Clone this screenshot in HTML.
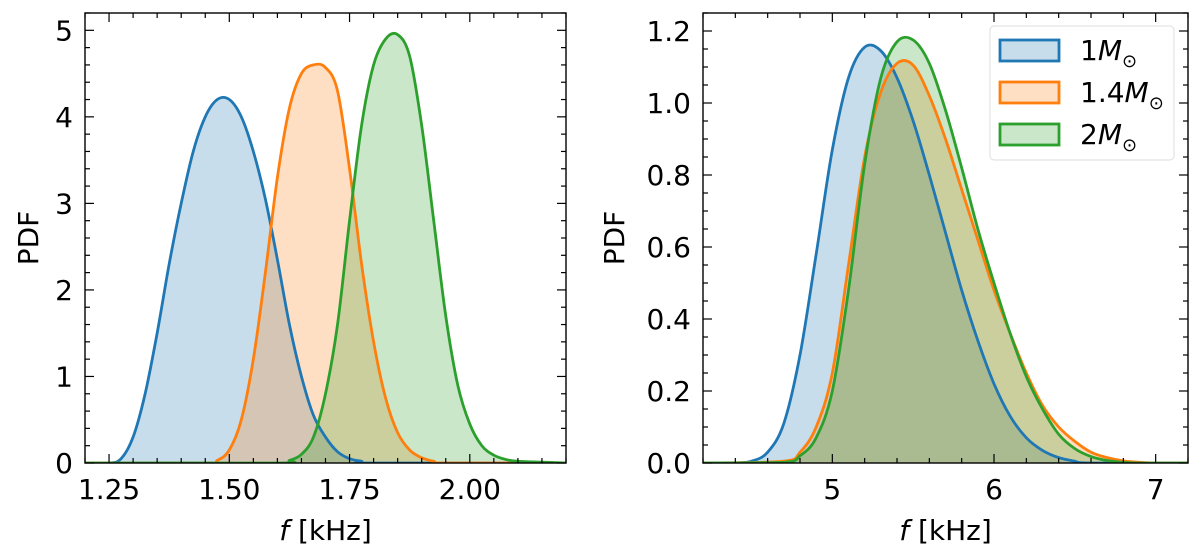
<!DOCTYPE html>
<html><head><meta charset="utf-8"><style>
html,body{margin:0;padding:0;background:#fff}
svg{display:block}
text{font-family:"DejaVu Sans","Liberation Sans",sans-serif;fill:#000}
</style></head><body>
<svg id="chart" width="1200" height="556" viewBox="0 0 1200 556" xmlns="http://www.w3.org/2000/svg"></svg>
<script>
// ---- data: left panel ----
const leftXTicks = [1.25, 1.50, 1.75, 2.00];
const leftXTickLabels = ["1.25", "1.50", "1.75", "2.00"];
const leftYTicks = [0, 1, 2, 3, 4, 5];
const leftYTickLabels = ["0", "1", "2", "3", "4", "5"];
const leftBlueX = [1.20,1.25,1.275,1.30,1.325,1.35,1.375,1.40,1.425,1.45,1.475,1.50,1.525,1.55,1.575,1.60,1.625,1.65,1.675,1.70,1.725,1.75,1.775,1.80,2.20];
const leftBlueY = [0,0,0.05,0.3,0.8,1.5,2.3,3.0,3.6,4.0,4.2,4.2,4.0,3.6,3.05,2.35,1.6,1.0,0.55,0.3,0.13,0.05,0.02,0,0];
const leftOrangeX = [1.20,1.45,1.475,1.50,1.525,1.55,1.575,1.60,1.625,1.65,1.675,1.70,1.725,1.75,1.775,1.80,1.825,1.85,1.875,1.90,1.925,1.95,2.20];
const leftOrangeY = [0,0,0.03,0.15,0.5,1.2,2.2,3.3,4.1,4.5,4.6,4.57,4.3,3.4,2.3,1.4,0.75,0.35,0.15,0.06,0.02,0,0];
const leftGreenX = [1.20,1.60,1.625,1.65,1.675,1.70,1.725,1.75,1.775,1.80,1.825,1.85,1.875,1.90,1.925,1.95,1.975,2.00,2.025,2.05,2.075,2.10,2.15,2.20];
const leftGreenY = [0,0,0.03,0.1,0.3,0.8,1.6,2.8,3.9,4.6,4.9,4.95,4.7,3.9,2.8,1.7,0.9,0.45,0.2,0.09,0.04,0.02,0.01,0];
// ---- data: right panel ----
const rightXTicks = [5, 6, 7];
const rightXTickLabels = ["5", "6", "7"];
const rightYTicks = [0, 0.2, 0.4, 0.6, 0.8, 1.0, 1.2];
const rightYTickLabels = ["0.0", "0.2", "0.4", "0.6", "0.8", "1.0", "1.2"];
const rightBlueX = [4.2,4.4,4.5,4.6,4.7,4.8,4.9,5.0,5.1,5.2,5.3,5.4,5.5,5.6,5.7,5.8,5.9,6.0,6.1,6.2,6.3,6.4,6.5,6.6,7.2];
const rightBlueY = [0,0,0.005,0.03,0.11,0.3,0.58,0.87,1.07,1.155,1.145,1.07,0.95,0.8,0.64,0.48,0.34,0.22,0.13,0.07,0.035,0.015,0.005,0,0];
const rightOrangeX = [4.2,4.7,4.8,4.9,5.0,5.1,5.2,5.3,5.4,5.5,5.6,5.7,5.8,5.9,6.0,6.1,6.2,6.3,6.4,6.5,6.6,6.7,6.8,6.9,7.0,7.2];
const rightOrangeY = [0,0.005,0.03,0.1,0.25,0.55,0.85,1.03,1.11,1.105,1.02,0.9,0.76,0.62,0.48,0.36,0.25,0.16,0.1,0.06,0.03,0.015,0.006,0.002,0,0];
const rightGreenX = [4.2,4.7,4.8,4.9,5.0,5.1,5.2,5.3,5.4,5.5,5.6,5.7,5.8,5.9,6.0,6.1,6.2,6.3,6.4,6.5,6.6,6.7,6.8,6.9,7.2];
const rightGreenY = [0,0.002,0.02,0.07,0.2,0.48,0.83,1.07,1.17,1.175,1.11,0.98,0.82,0.65,0.5,0.36,0.24,0.15,0.08,0.04,0.018,0.007,0.002,0,0];
const legendLabels = ["1", "1.4", "2"];

const NS = "http://www.w3.org/2000/svg";
const svg = document.getElementById('chart');
const C = ["#1f77b4", "#ff7f0e", "#2ca02c"];
function mk(tag, attrs, parent) {
  const e = document.createElementNS(NS, tag);
  for (const k in attrs) e.setAttribute(k, attrs[k]);
  (parent || svg).appendChild(e);
  return e;
}
function smoothPath(pts) {
  let d = "M" + pts[0][0].toFixed(2) + "," + pts[0][1].toFixed(2);
  for (let i = 0; i < pts.length - 1; i++) {
    const p0 = pts[Math.max(0, i - 1)], p1 = pts[i], p2 = pts[i + 1], p3 = pts[Math.min(pts.length - 1, i + 2)];
    let c1y = p1[1] + (p2[1] - p0[1]) / 6, c2y = p2[1] - (p3[1] - p1[1]) / 6;
    const base = Math.max(p1[1], p2[1]);
    c1y = Math.min(c1y, base); c2y = Math.min(c2y, base);
    d += " C" + (p1[0] + (p2[0] - p0[0]) / 6).toFixed(2) + "," + c1y.toFixed(2) + " " +
      (p2[0] - (p3[0] - p1[0]) / 6).toFixed(2) + "," + c2y.toFixed(2) + " " + p2[0].toFixed(2) + "," + p2[1].toFixed(2);
  }
  return d;
}
function panel(cfg) {
  const g = mk('g', {});
  
  
  const sx = v => cfg.x0 + (v - cfg.xmin) / (cfg.xmax - cfg.xmin) * (cfg.x1 - cfg.x0);
  const sy = v => cfg.y1 - (v - cfg.ymin) / (cfg.ymax - cfg.ymin) * (cfg.y1 - cfg.y0);
  const clipId = cfg.name + "-clip";
  const cp = mk('clipPath', { id: clipId }, g);
  mk('rect', { x: cfg.x0, y: cfg.y0, width: cfg.x1 - cfg.x0, height: cfg.y1 - cfg.y0 }, cp);
  const plot = mk('g', { 'clip-path': 'url(#' + clipId + ')' }, g);
  cfg.series.forEach((s, i) => {
    const pts = s.x.map((xv, j) => [sx(xv), sy(s.y[j])]);
    const d = smoothPath(pts);
    const f = mk('path', { d: d + " L" + sx(s.x[s.x.length - 1]) + "," + sy(0) + " L" + sx(s.x[0]) + "," + sy(0) + " Z", fill: C[i], 'fill-opacity': 0.25, stroke: 'none' }, plot);
    
    
  });
  cfg.series.forEach((s, i) => {
    const pts = s.x.map((xv, j) => [sx(xv), sy(s.y[j])]);
    const l = mk('path', { d: smoothPath(pts), fill: 'none', stroke: C[i], 'stroke-width': 2.8, 'stroke-linejoin': 'round' }, plot);
    
    
  });
  const tk = mk('g', { stroke: '#000', 'stroke-width': 1.2 }, g);
  const eps = 1e-9;
  for (let v = cfg.xmin; v <= cfg.xmax + eps; v += cfg.xminor) {
    const isMaj = cfg.xticks.some(t => Math.abs(t - v) < 1e-6);
    const L = isMaj ? 9 : 5, X = sx(v);
    mk('line', { x1: X, x2: X, y1: cfg.y1, y2: cfg.y1 - L }, tk);
    mk('line', { x1: X, x2: X, y1: cfg.y0, y2: cfg.y0 + L }, tk);
  }
  for (let v = cfg.ymin; v <= cfg.ymax + eps; v += cfg.yminor) {
    const isMaj = cfg.yticks.some(t => Math.abs(t - v) < 1e-6);
    const L = isMaj ? 9 : 5, Y = sy(v);
    mk('line', { y1: Y, y2: Y, x1: cfg.x0, x2: cfg.x0 + L }, tk);
    mk('line', { y1: Y, y2: Y, x1: cfg.x1, x2: cfg.x1 - L }, tk);
  }
  mk('rect', { x: cfg.x0, y: cfg.y0, width: cfg.x1 - cfg.x0, height: cfg.y1 - cfg.y0, fill: 'none', stroke: '#000', 'stroke-width': 1.4 }, g);
  cfg.xticks.forEach((t, i) => {
    const tx = mk('text', { x: sx(t), y: cfg.y1 + 36, 'font-size': 28, 'text-anchor': 'middle' }, g);
    tx.textContent = cfg.xlabels[i];
    
    
  });
  cfg.yticks.forEach((t, i) => {
    const tx = mk('text', { x: cfg.x0 - 12, y: sy(t) + 10, 'font-size': 28, 'text-anchor': 'end' }, g);
    tx.textContent = cfg.ylabels[i];
    
    
  });
  const xl = mk('text', { x: (cfg.x0 + cfg.x1) / 2, y: 540, 'font-size': 28, 'text-anchor': 'middle' }, g);
  xl.innerHTML = '<tspan font-style="italic">f</tspan> [kHz]';
  
  
  const yl = mk('text', { x: 0, y: 0, 'font-size': 28, 'text-anchor': 'middle', transform: 'translate(' + cfg.ylabelX + ',' + ((cfg.y0 + cfg.y1) / 2) + ') rotate(-90)' }, g);
  yl.textContent = 'PDF';
  
  
}
panel({ name: 'left-panel', x0: 85, x1: 566, y0: 13, y1: 463, xmin: 1.2, xmax: 2.2, ymin: 0, ymax: 5.2,
  xticks: leftXTicks, xlabels: leftXTickLabels, yticks: leftYTicks, ylabels: leftYTickLabels, xminor: 0.05, yminor: 0.2, ylabelX: 38,
  series: [{ name: 'left-1msun', x: leftBlueX, y: leftBlueY }, { name: 'left-1.4msun', x: leftOrangeX, y: leftOrangeY }, { name: 'left-2msun', x: leftGreenX, y: leftGreenY }] });
panel({ name: 'right-panel', x0: 703, x1: 1188, y0: 13, y1: 463, xmin: 4.2, xmax: 7.2, ymin: 0, ymax: 1.25,
  xticks: rightXTicks, xlabels: rightXTickLabels, yticks: rightYTicks, ylabels: rightYTickLabels, xminor: 0.2, yminor: 0.05, ylabelX: 624,
  series: [{ name: 'right-1msun', x: rightBlueX, y: rightBlueY }, { name: 'right-1.4msun', x: rightOrangeX, y: rightOrangeY }, { name: 'right-2msun', x: rightGreenX, y: rightGreenY }] });
const lg = mk('g', {});


mk('rect', { x: 990, y: 26, width: 184, height: 134, rx: 4, fill: '#fff', 'fill-opacity': 0.8, stroke: '#ddd', 'stroke-width': 1 }, lg);
legendLabels.forEach((lab, i) => {
  const y = 50 + i * 42;
  const e = mk('g', {}, lg);
  
  
  mk('rect', { x: 1000, y: y - 10, width: 59, height: 21, fill: '#fff' }, e);
  mk('rect', { x: 1000, y: y - 10, width: 59, height: 21, fill: C[i], 'fill-opacity': 0.25, stroke: C[i], 'stroke-width': 2.8 }, e);
  const t = mk('text', { x: 1080, y: y + 10, 'font-size': 28 }, e);
  t.innerHTML = lab + '<tspan font-style="italic">M</tspan><tspan font-size="18" dy="7">⊙</tspan>';
});
</script>
</body></html>
